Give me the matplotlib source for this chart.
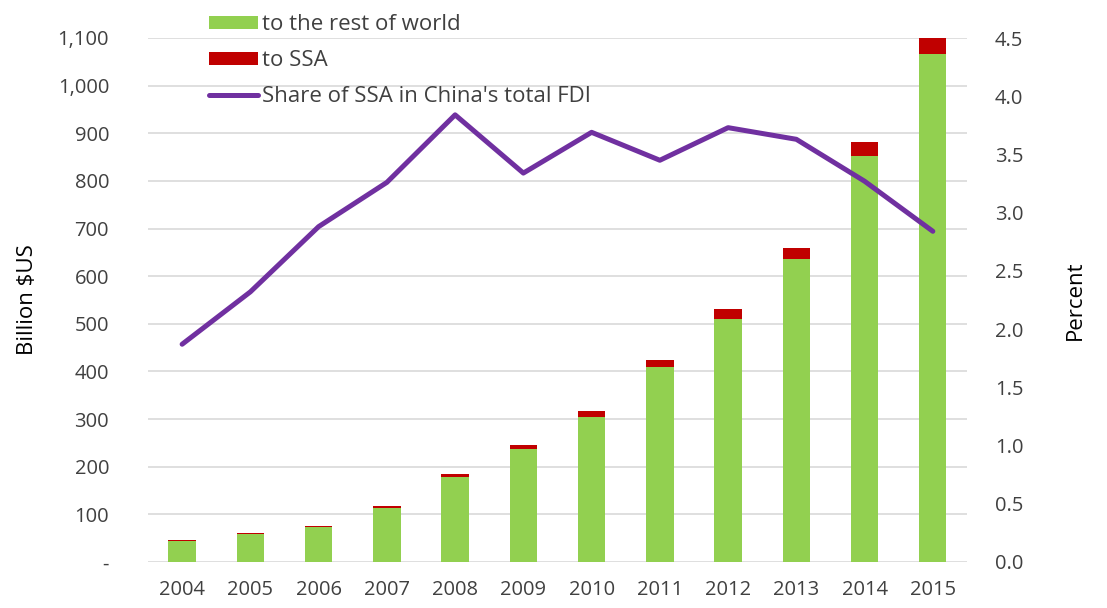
import matplotlib.pyplot as plt
import numpy as np

# data
years = ['2004', '2005', '2006', '2007', '2008', '2009',
         '2010', '2011', '2012', '2013', '2014', '2015']
rest_of_world = [45, 59.6, 74, 114, 178, 238, 305, 409, 511, 636, 853, 1067]
to_ssa = [1, 1.4, 2.2, 4, 7, 8, 12, 15, 20, 24, 29, 32]
ssa_share = [1.87, 2.32, 2.88, 3.26, 3.84, 3.34, 3.69, 3.45, 3.73, 3.63, 3.27, 2.84]

left_ticks = [0, 100, 200, 300, 400, 500, 600, 700, 800, 900, 1000, 1100]
left_labels = ['-', '100', '200', '300', '400', '500', '600', '700', '800', '900', '1,000', '1,100']
right_ticks = [0.0, 0.5, 1.0, 1.5, 2.0, 2.5, 3.0, 3.5, 4.0, 4.5]

plt.rcParams['font.family'] = ['Open Sans', 'DejaVu Sans']
text_color = '#404040'

fig = plt.figure(figsize=(11.07, 6.08), dpi=100)
ax = fig.add_axes([0.1337, 0.0757, 0.7398, 0.8618])

x = np.arange(len(years))
b1 = ax.bar(x, rest_of_world, width=0.4, color='#92D050', label='to the rest of world', zorder=2)
b2 = ax.bar(x, to_ssa, width=0.4, bottom=rest_of_world, color='#C00000', label='to SSA', zorder=2)

ax.set_xlim(-0.5, len(years) - 0.5)
ax.set_ylim(0, 1100)
ax.set_yticks(left_ticks)
ax.set_yticklabels(left_labels)
ax.set_xticks(x)
ax.set_xticklabels(years)
ax.grid(axis='y', color='#d9d9d9', linewidth=1.2, zorder=0)
ax.set_axisbelow(True)
for s in ax.spines.values():
    s.set_visible(False)
ax.tick_params(axis='both', length=0, labelsize=14.5, colors=text_color)
ax.tick_params(axis='y', pad=28)
ax.tick_params(axis='x', pad=13)
ax.set_ylabel('Billion $US', fontsize=16, color='black', labelpad=14)

ax2 = ax.twinx()
line, = ax2.plot(x, ssa_share, color='#7030A0', linewidth=3.6,
                 label="Share of SSA in China's total FDI", solid_capstyle='round')
ax2.set_ylim(0, 4.5)
ax2.set_yticks(right_ticks)
ax2.set_yticklabels([f'{t:.1f}' for t in right_ticks])
for s in ax2.spines.values():
    s.set_visible(False)
ax2.tick_params(axis='y', length=0, labelsize=14.5, colors=text_color, pad=20)
ax2.set_ylabel('Percent', fontsize=16, color='black', labelpad=30)

leg = fig.legend(handles=[b1, b2, line], loc='upper left',
                 bbox_to_anchor=(0.173, 1.006), frameon=False, fontsize=16,
                 handlelength=2.2, handleheight=0.5, handletextpad=0.15,
                 labelspacing=0.68, borderpad=0.3)
for t in leg.get_texts():
    t.set_color(text_color)

fig.savefig('out.png', dpi=100)
